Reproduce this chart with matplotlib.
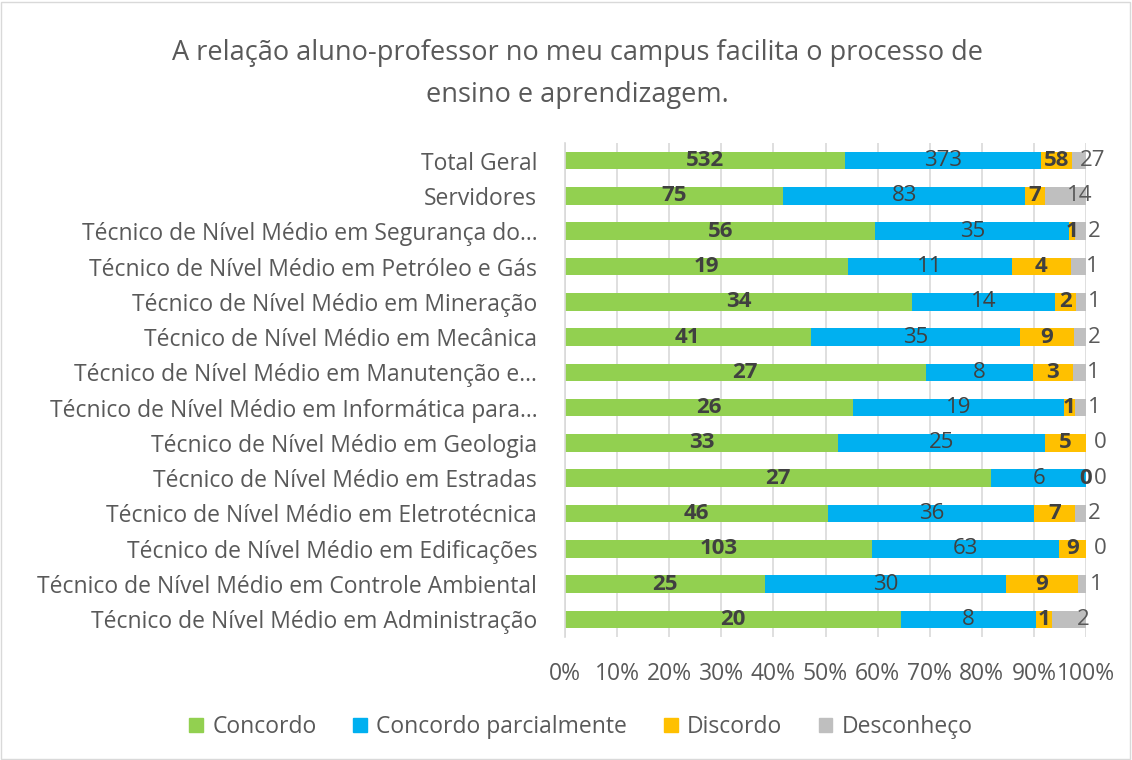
import matplotlib
matplotlib.use("Agg")
import matplotlib.pyplot as plt
import numpy as np
from matplotlib.patches import Rectangle

plt.rcParams['font.family'] = ['Open Sans', 'DejaVu Sans']

categories = [
    "Total Geral",
    "Servidores",
    "Técnico de Nível Médio em Segurança do...",
    "Técnico de Nível Médio em Petróleo e Gás",
    "Técnico de Nível Médio em Mineração",
    "Técnico de Nível Médio em Mecânica",
    "Técnico de Nível Médio em Manutenção e...",
    "Técnico de Nível Médio em Informática para...",
    "Técnico de Nível Médio em Geologia",
    "Técnico de Nível Médio em Estradas",
    "Técnico de Nível Médio em Eletrotécnica",
    "Técnico de Nível Médio em Edificações",
    "Técnico de Nível Médio em Controle Ambiental",
    "Técnico de Nível Médio em Administração",
]
concordo = [532, 75, 56, 19, 34, 41, 27, 26, 33, 27, 46, 103, 25, 20]
concordo_parc = [373, 83, 35, 11, 14, 35, 8, 19, 25, 6, 36, 63, 30, 8]
discordo = [58, 7, 1, 4, 2, 9, 3, 1, 5, 0, 7, 9, 9, 1]
desconheco = [27, 14, 2, 1, 1, 2, 1, 1, 0, 0, 2, 0, 1, 2]
series_names = ["Concordo", "Concordo parcialmente", "Discordo", "Desconheço"]
colors = ["#92D050", "#00B0F0", "#FFC000", "#BFBFBF"]
title = "A relação aluno-professor no meu campus facilita o processo de\nensino e aprendizagem."

data = np.array([concordo, concordo_parc, discordo, desconheco], dtype=float)
totals = data.sum(axis=0)
pct = data / totals

fig = plt.figure(figsize=(11.32, 7.6), dpi=100)
ax = fig.add_axes([565/1132, 1-637/760, (1086-565)/1132, (637-143)/760])

LFS = 16.5
DFS = 16
n = len(categories)
y = np.arange(n)[::-1]
left = np.zeros(n)
label_colors = ["#404040", "#404040", "#404040", "#595959"]
weights = ["bold", "normal", "bold", "normal"]
for i in range(4):
    ax.barh(y, pct[i], left=left, height=0.5, color=colors[i], label=series_names[i], zorder=2)
    for j in range(n):
        cx = left[j] + pct[i][j] / 2
        if i == 3:
            ax.annotate(f"{int(data[i][j])}", (cx, y[j]), xytext=(10, 0), textcoords='offset points',
                        ha='center', va='center', fontsize=DFS, color="#595959", zorder=3)
        else:
            ax.text(cx, y[j], f"{int(data[i][j])}", ha='center', va='center', fontsize=DFS,
                    color=label_colors[i], fontweight=weights[i], zorder=3)
    left += pct[i]

ax.set_xlim(0, 1)
ax.set_ylim(-0.5, n - 0.5)
ax.set_xticks(np.arange(0, 1.01, 0.1))
ax.set_xticklabels([f"{int(round(v*100))}%" for v in np.arange(0, 1.01, 0.1)])
ax.set_yticks(y)
ax.set_yticklabels(categories)
ax.tick_params(axis='both', length=0, labelsize=LFS, labelcolor="#595959")
ax.tick_params(axis='x', pad=18)
ax.tick_params(axis='y', pad=20)
ax.grid(axis='x', color="#D9D9D9", linewidth=1.2, zorder=0)
for s in ['top', 'right', 'bottom']:
    ax.spines[s].set_visible(False)
ax.spines['left'].set_color("#D9D9D9")
ax.spines['left'].set_linewidth(1.2)

fig.text(577/1132, 1-74/760, title, ha='center', va='center', fontsize=19.5, color="#595959",
         linespacing=1.65)

handles = [Rectangle((0, 0), 1, 1, color=c) for c in colors]
fig.legend(handles, series_names, loc='center', bbox_to_anchor=(581/1132, 1-727/760), ncol=4,
           frameon=False, fontsize=LFS, handlelength=0.6, handleheight=0.6, columnspacing=1.6,
           handletextpad=0.4, labelcolor="#595959")

fig.patches.append(Rectangle((0.001, 0.001), 0.997, 0.997, transform=fig.transFigure,
                             fill=False, edgecolor="#D9D9D9", linewidth=1))

fig.savefig("out.png", dpi=100)
